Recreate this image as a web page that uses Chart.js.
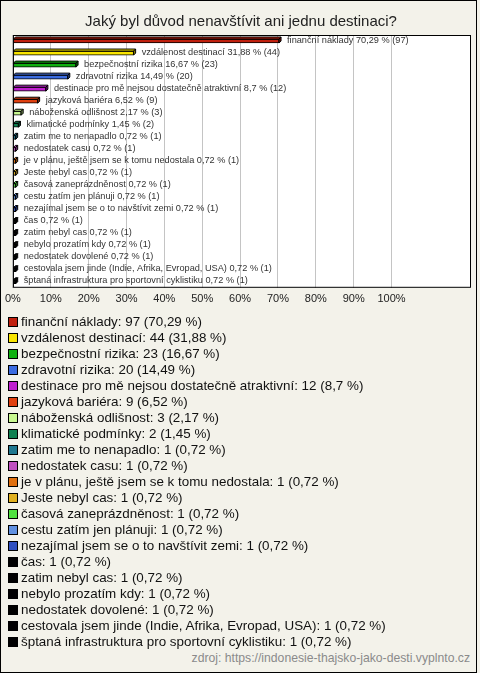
<!DOCTYPE html>
<html>
<head>
<meta charset="utf-8">
<script src="https://cdn.jsdelivr.net/npm/chart.js@4/dist/chart.umd.min.js"></script>
<style>
  body { margin: 0; background: #f3f2ea; font-family: "Liberation Sans", Arial, sans-serif; }
  #frame { position: absolute; left: 0; top: 0; width: 475px; height: 671px; border: 1px solid #000; }
  #chart { position: absolute; left: 0; top: 0; }
  #legend { position: absolute; left: 8px; top: 314px; font-size: 13.4px; color: #111; }
  .item { height: 16px; line-height: 16px; white-space: nowrap; }
  .sw { display: inline-block; width: 8px; height: 8px; border: 1px solid #000; margin-right: 3px; vertical-align: -1px; }
  #src { position: absolute; right: 10px; top: 651px; font-size: 12.2px; color: #8a8a8a; }
</style>
</head>
<body>
<div id="frame"></div>
<canvas id="chart" width="480" height="316"></canvas>
<div id="legend"></div>
<div id="src">zdroj: https://indonesie-thajsko-jako-desti.vyplnto.cz</div>
<script>
let categories = [
  "finanční náklady", "vzdálenost destinací", "bezpečnostní rizika", "zdravotní rizika",
  "destinace pro mě nejsou dostatečně atraktivní", "jazyková bariéra", "náboženská odlišnost",
  "klimatické podmínky", "zatim me to nenapadlo", "nedostatek casu",
  "je v plánu, ještě jsem se k tomu nedostala", "Jeste nebyl cas", "časová zaneprázdněnost",
  "cestu zatím jen plánuji", "nezajímal jsem se o to navštívit zemi", "čas", "zatim nebyl cas",
  "nebylo prozatím kdy", "nedostatek dovolené", "cestovala jsem jinde (Indie, Afrika, Evropad, USA)",
  "šptaná infrastruktura pro sportovní cyklistiku"
];
let counts = [97, 44, 23, 20, 12, 9, 3, 2, 1, 1, 1, 1, 1, 1, 1, 1, 1, 1, 1, 1, 1];
let percents = [70.29, 31.88, 16.67, 14.49, 8.7, 6.52, 2.17, 1.45, 0.72, 0.72, 0.72, 0.72, 0.72,
  0.72, 0.72, 0.72, 0.72, 0.72, 0.72, 0.72, 0.72];
let barColors = [
  "#c0200e", "#f8e400", "#10b010", "#3c6ce0", "#c020d0", "#e04010", "#c8f890", "#108050",
  "#207890", "#c050c0", "#e07010", "#e0b020", "#50e040", "#6090e0", "#3050c0",
  "#000", "#000", "#000", "#000", "#000", "#000"
];
let xTicks = [0, 10, 20, 30, 40, 50, 60, 70, 80, 90, 100];

const pctText = p => String(p).replace(".", ",");

function shade(hex, f) {
  let h = hex.replace("#", "");
  if (h.length === 3) h = h.split("").map(c => c + c).join("");
  const n = parseInt(h, 16);
  const r = Math.round(((n >> 16) & 255) * f), g = Math.round(((n >> 8) & 255) * f), b = Math.round((n & 255) * f);
  return `rgb(${r},${g},${b})`;
}

const plotBox = {
  id: "plotBox",
  beforeDraw(chart) {
    const a = chart.chartArea, ctx = chart.ctx;
    ctx.save();
    ctx.fillStyle = "#fff";
    ctx.fillRect(a.left, a.top, a.right - a.left, a.bottom - a.top);
    ctx.restore();
  },
  afterDraw(chart) {
    const a = chart.chartArea, ctx = chart.ctx;
    ctx.save();
    ctx.strokeStyle = "#000";
    ctx.lineWidth = 1;
    ctx.strokeRect(a.left + 0.5, a.top + 0.5, a.right - a.left - 1, a.bottom - a.top - 1);
    ctx.restore();
  }
};

const bar3d = {
  id: "bar3d",
  afterDatasetsDraw(chart) {
    const ctx = chart.ctx, d = 2;
    chart.getDatasetMeta(0).data.forEach((bar, i) => {
      const { x, y, base, height } = bar.getProps(["x", "y", "base", "height"], true);
      const top = y - height / 2, bot = y + height / 2;
      ctx.save();
      ctx.strokeStyle = "#000";
      ctx.lineWidth = 1;
      ctx.fillStyle = shade(barColors[i], 1.0);
      ctx.beginPath();
      ctx.moveTo(base, top); ctx.lineTo(base + d, top - d); ctx.lineTo(x + d, top - d); ctx.lineTo(x, top);
      ctx.closePath(); ctx.fill(); ctx.stroke();
      ctx.fillStyle = shade(barColors[i], 0.6);
      ctx.beginPath();
      ctx.moveTo(x, top); ctx.lineTo(x + d, top - d); ctx.lineTo(x + d, bot - d); ctx.lineTo(x, bot);
      ctx.closePath(); ctx.fill(); ctx.stroke();
      ctx.restore();
    });
  }
};

const valueLabels = {
  id: "valueLabels",
  afterDatasetsDraw(chart) {
    const ctx = chart.ctx;
    ctx.save();
    ctx.font = '9.2px "Liberation Sans", Arial, sans-serif';
    ctx.fillStyle = "#333";
    ctx.textAlign = "left";
    ctx.textBaseline = "middle";
    chart.getDatasetMeta(0).data.forEach((bar, i) => {
      ctx.fillText(`${categories[i]} ${pctText(percents[i])} % (${counts[i]})`, bar.x + 8, bar.y - 1);
    });
    ctx.restore();
  }
};

new Chart("chart", {
  type: "bar",
  data: {
    labels: categories,
    datasets: [{
      data: percents,
      backgroundColor: barColors,
      borderColor: "#000",
      borderWidth: 1,
      borderSkipped: false,
      barThickness: 4
    }]
  },
  options: {
    indexAxis: "y",
    responsive: false,
    animation: false,
    layout: { padding: { left: 11, right: 9, top: 0, bottom: 5 } },
    plugins: {
      legend: { display: false },
      tooltip: { enabled: false },
      title: {
        display: true,
        text: "Jaký byl důvod nenavštívit ani jednu destinaci?",
        color: "#222",
        font: { size: 15, weight: "normal", family: '"Liberation Sans", Arial, sans-serif' },
        padding: { top: 13, bottom: 4 }
      }
    },
    scales: {
      x: {
        min: 0,
        max: 121,
        afterBuildTicks: s => { s.ticks = xTicks.map(v => ({ value: v })); },
        ticks: {
          callback: v => v + "%",
          color: "#222",
          padding: 5,
          maxRotation: 0,
          autoSkip: false,
          font: { size: 11, family: '"Liberation Sans", Arial, sans-serif' }
        },
        grid: { color: "#c4c4c4", drawTicks: false },
        border: { display: false }
      },
      y: { display: false }
    }
  },
  plugins: [plotBox, bar3d, valueLabels]
});

const legend = document.getElementById("legend");
categories.forEach((c, i) => {
  const row = document.createElement("div");
  row.className = "item";
  const sw = document.createElement("span");
  sw.className = "sw";
  sw.style.background = barColors[i];
  row.appendChild(sw);
  row.appendChild(document.createTextNode(`${c}: ${counts[i]} (${pctText(percents[i])} %)`));
  legend.appendChild(row);
});
</script>
</body>
</html>
